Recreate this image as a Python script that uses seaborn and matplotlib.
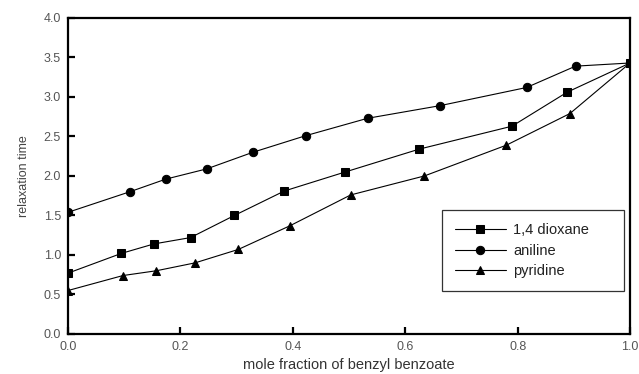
import pandas as pd
import numpy as np
import seaborn as sns
import matplotlib
matplotlib.use("Agg")
import matplotlib.pyplot as plt

# values
x_dioxane = [0.0, 0.095, 0.153, 0.218, 0.296, 0.385, 0.493, 0.625, 0.790, 0.888, 1.0]
y_dioxane = [0.77, 1.02, 1.14, 1.22, 1.50, 1.81, 2.05, 2.34, 2.63, 3.06, 3.43]

x_aniline = [0.0, 0.110, 0.174, 0.247, 0.329, 0.423, 0.533, 0.662, 0.816, 0.903, 1.0]
y_aniline = [1.54, 1.80, 1.96, 2.09, 2.30, 2.51, 2.73, 2.89, 3.12, 3.39, 3.43]

x_pyridine = [0.0, 0.098, 0.157, 0.226, 0.303, 0.395, 0.503, 0.634, 0.780, 0.893, 1.0]
y_pyridine = [0.55, 0.74, 0.80, 0.90, 1.07, 1.37, 1.76, 2.00, 2.39, 2.79, 3.43]

series = [("1,4 dioxane", x_dioxane, y_dioxane, "s", 5.2),
          ("aniline", x_aniline, y_aniline, "o", 6),
          ("pyridine", x_pyridine, y_pyridine, "^", 6)]

sns.set_style("white")
plt.rcParams['font.family'] = ['Liberation Sans', 'DejaVu Sans']

fig = plt.figure(figsize=(6.39, 3.74), dpi=100)
ax = fig.add_axes([0.1064, 0.107, 0.8796, 0.845])

for name, xs, ys, mk, ms in series:
    df = pd.DataFrame({"x": xs, "y": ys})
    sns.lineplot(data=df, x="x", y="y", ax=ax, color="black", linewidth=0.8,
                 marker=mk, markersize=ms, markeredgecolor="black",
                 label=name, sort=False)

ax.set_xlim(0, 1.0)
ax.set_ylim(0, 4.0)
ax.set_xticks(np.arange(0, 1.01, 0.2))
ax.set_yticks(np.arange(0, 4.01, 0.5))
ax.xaxis.set_major_formatter(matplotlib.ticker.FormatStrFormatter('%.1f'))
ax.yaxis.set_major_formatter(matplotlib.ticker.FormatStrFormatter('%.1f'))

for s in ax.spines.values():
    s.set_color("black")
    s.set_linewidth(1.6)

ax.tick_params(axis="both", direction="in", length=5, width=1.6, color="black",
               labelsize=9, labelcolor="#555555", top=False, right=False,
               left=True, bottom=True, pad=5)

ax.set_xlabel("mole fraction of benzyl benzoate", fontsize=10.5, color="#333333", labelpad=4)
ax.set_ylabel("relaxation time", fontsize=9, color="#444444", labelpad=10)

# legend box stretched to the reference width
leg = ax.legend(loc="upper left", bbox_to_anchor=(0.665, 0.392, 0.324, 0.0),
                mode="expand", frameon=True, fancybox=False, edgecolor="black",
                fontsize=10.5, handlelength=3.5, borderpad=0.9, labelspacing=0.45,
                handletextpad=0.5, borderaxespad=0)
leg.get_frame().set_linewidth(0.9)
for t in leg.get_texts():
    t.set_color("#222222")

fig.savefig("out.png", dpi=100)
